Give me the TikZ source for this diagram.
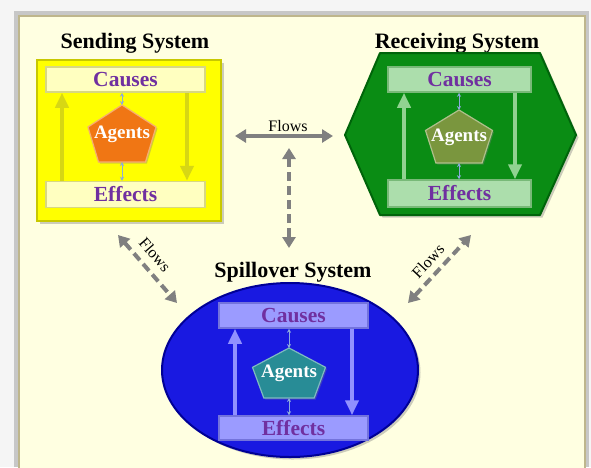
\documentclass[tikz,border=0pt]{standalone}
\usepackage{fontspec}
\setmainfont{Liberation Serif}
\usetikzlibrary{arrows.meta,shapes.geometric,shadows}
\definecolor{panel}{RGB}{255,255,225}
\definecolor{panelbord}{RGB}{190,182,140}
\definecolor{ysys}{RGB}{255,255,0}
\definecolor{ysysb}{RGB}{200,200,0}
\definecolor{ybar}{RGB}{255,255,192}
\definecolor{ybarb}{RGB}{215,215,130}
\definecolor{yarr}{RGB}{215,215,20}
\definecolor{gsys}{RGB}{10,140,20}
\definecolor{gsysb}{RGB}{0,100,10}
\definecolor{gbar}{RGB}{172,222,172}
\definecolor{gbarb}{RGB}{120,185,120}
\definecolor{garr}{RGB}{145,210,145}
\definecolor{bsys}{RGB}{25,25,225}
\definecolor{bsysb}{RGB}{0,0,150}
\definecolor{bbar}{RGB}{155,155,255}
\definecolor{bbarb}{RGB}{115,115,220}
\definecolor{barr}{RGB}{145,145,255}
\definecolor{purp}{RGB}{112,48,160}
\definecolor{flowgray}{RGB}{128,128,128}
\definecolor{tinyarr}{RGB}{140,170,220}
\definecolor{pentO}{RGB}{240,118,20}
\definecolor{pentG}{RGB}{122,150,62}
\definecolor{pentB}{RGB}{40,140,150}
\newcommand\agentpent[6]{%
  \filldraw[fill=#6, draw=#6!60!white, line width=1.2pt,
    drop shadow={opacity=0.35,shadow xshift=1.5pt,shadow yshift=-1.5pt}]
    (#2,{#3-#5/2}) -- ({#2+#4/2},{#3-#5/2+0.386*#5})
    -- ({#2+0.345*#4},{#3+#5/2}) -- ({#2-0.345*#4},{#3+#5/2})
    -- ({#2-#4/2},{#3-#5/2+0.386*#5}) -- cycle;
  \coordinate (#1top) at (#2,{#3-#5/2});
  \coordinate (#1bot) at (#2,{#3+#5/2});
  \node[agent] (#1) at (#2,{#3+0.5}) {Agents};
}
\begin{document}
\begin{tikzpicture}[x=1pt,y=-1pt,
  title/.style={font=\fontsize{22}{25}\selectfont\bfseries, text=black, inner sep=0},
  bartext/.style={font=\fontsize{21.5}{24}\selectfont\bfseries, text=purp, inner sep=0},
  agent/.style={font=\fontsize{19}{22}\selectfont\bfseries, text=white, inner sep=0},
  flowlbl/.style={font=\fontsize{16}{18}\selectfont, text=black, inner sep=0},
  ybarsty/.style={bartext, rectangle, fill=ybar, draw=ybarb, line width=1.5pt, minimum width=159pt},
  gbarsty/.style={bartext, rectangle, fill=gbar, draw=gbarb, line width=1.5pt, minimum width=143pt},
  bbarsty/.style={bartext, rectangle, fill=bbar, draw=bbarb, line width=1.5pt, minimum width=149pt},
  bigarr/.style={line width=4pt, -{Triangle[width=13pt,length=15pt]}},
  tinyarrow/.style={draw=tinyarr, line width=1pt, {Stealth[length=4pt,width=4pt]}-{Stealth[length=4pt,width=4pt]}},
  flow/.style={draw=flowgray, line width=4pt, {Triangle[width=13pt,length=11pt]}-{Triangle[width=13pt,length=11pt]}},
  dflow/.style={flow, dash pattern=on 9pt off 5pt},
  shad/.style={drop shadow={opacity=0.4,shadow xshift=2.5pt,shadow yshift=-2.5pt}}
]
\useasboundingbox (0,0) rectangle (591,467);
\fill[white!96!black] (0,0) rectangle (591,467);
\fill[black!22] (14,11) rectangle (589,467);
\fill[panel, draw=panelbord, line width=2pt] (19,16) rectangle (585,470);

% ---------- Sending system ----------
\node[title] (sendT) at (135,43) {Sending System};
\node[rectangle, fill=ysys, draw=ysysb, line width=2.5pt, minimum width=184pt, minimum height=161pt, shad] (send) at (129,140.5) {};
\node[ybarsty, minimum height=25pt] (sC) at (125.5,79.5) {Causes};
\node[ybarsty, minimum height=26pt] (sE) at (125.5,194.5) {Effects};
\coordinate (sLx) at (62,0);
\coordinate (sRx) at (187,0);
\draw[yarr, bigarr] (sE.north -| sLx) -- (sC.south -| sLx);
\draw[yarr, bigarr] (sC.south -| sRx) -- (sE.north -| sRx);
\agentpent{sA}{122}{133.5}{68}{57}{pentO}
\draw[tinyarrow] (sC.south -| sAtop) -- (sAtop);
\draw[tinyarrow] (sAbot) -- (sE.north -| sAbot);

% ---------- Receiving system ----------
\node[title] (recT) at (457,43) {Receiving System};
\coordinate (hW) at (345,135);
\coordinate (hNW) at (380,53);
\coordinate (hNE) at (540,53);
\coordinate (hE) at (576,135);
\coordinate (hSE) at (540,215);
\coordinate (hSW) at (380,215);
\filldraw[fill=gsys, draw=gsysb, line width=2pt, line join=round, shad] (hW) -- (hNW) -- (hNE) -- (hE) -- (hSE) -- (hSW) -- cycle;
\node[gbarsty, minimum height=25pt] (rC) at (459.5,79.5) {Causes};
\node[gbarsty, minimum height=27pt] (rE) at (459.5,193.5) {Effects};
\coordinate (rLx) at (404,0);
\coordinate (rRx) at (515,0);
\draw[garr, bigarr] (rE.north -| rLx) -- (rC.south -| rLx);
\draw[garr, bigarr] (rC.south -| rRx) -- (rE.north -| rRx);
\agentpent{rA}{459}{136.5}{67}{53}{pentG}
\draw[tinyarrow] (rC.south -| rAtop) -- (rAtop);
\draw[tinyarrow] (rAbot) -- (rE.north -| rAbot);

% ---------- Spillover system ----------
\node[title] (spT) at (293,272) {Spillover System};
\node[ellipse, fill=bsys, draw=bsysb, line width=2pt, minimum width=256pt, minimum height=174pt, inner sep=0, shad] (spill) at (290,370) {};
\node[bbarsty, minimum height=25pt] (bC) at (293.5,315.5) {Causes};
\node[bbarsty, minimum height=24pt] (bE) at (293.5,428) {Effects};
\coordinate (bLx) at (235,0);
\coordinate (bRx) at (352,0);
\draw[barr, bigarr] (bE.north -| bLx) -- (bC.south -| bLx);
\draw[barr, bigarr] (bC.south -| bRx) -- (bE.north -| bRx);
\agentpent{bA}{289}{373}{73}{50}{pentB}
\draw[tinyarrow] (bC.south -| bAtop) -- (bAtop);
\draw[tinyarrow] (bAbot) -- (bE.north -| bAbot);

% ---------- Flows ----------
\coordinate (h1) at (235,136);
\coordinate (h2) at (333,136);
\draw[flow] (h1) -- (h2);
\node[flowlbl] (fl1) at (288,126) {Flows};
\coordinate (v1) at (289,148);
\coordinate (v2) at (289,248);
\draw[dflow] (v1) -- (v2);
\coordinate (d1a) at (118,235);
\coordinate (d1b) at (177,303);
\draw[dflow] (d1a) -- (d1b);
\node[flowlbl, rotate=-49] (fl2) at (155,255) {Flows};
\coordinate (d2a) at (408,303);
\coordinate (d2b) at (471,235);
\draw[dflow] (d2a) -- (d2b);
\node[flowlbl, rotate=47] (fl3) at (428,261) {Flows};
\end{tikzpicture}
\end{document}
